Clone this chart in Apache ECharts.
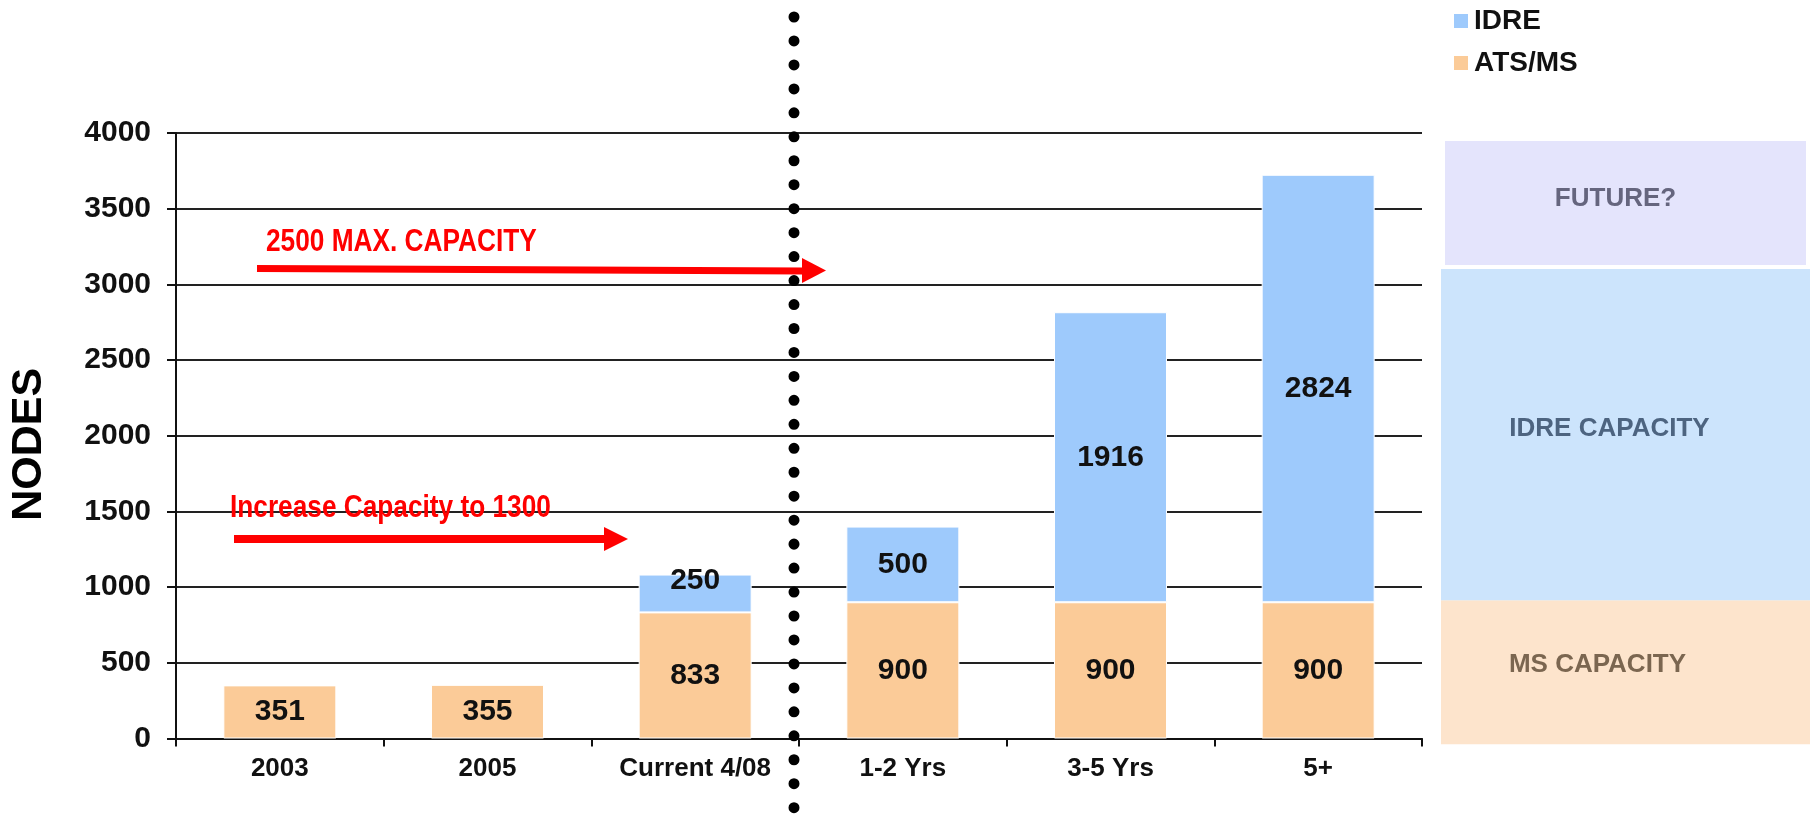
<!DOCTYPE html>
<html>
<head>
<meta charset="utf-8">
<script src="https://cdn.jsdelivr.net/npm/echarts@6/dist/echarts.min.js"></script>
<style>
html,body{margin:0;padding:0;background:#fff;}
#chart{width:1816px;height:815px;}
</style>
</head>
<body>
<div id="chart"></div>
<script>
// ---- data ----
const categories = ['2003', '2005', 'Current 4/08', '1-2 Yrs', '3-5 Yrs', '5+'];
const atsMs = [351, 355, 833, 900, 900, 900];
const idre = [0, 0, 250, 500, 1916, 2824];
const yMin = 0, yMax = 4000, yStep = 500;
const capacityNames = ['MS CAPACITY', 'IDRE CAPACITY', 'FUTURE?'];
const capacityValues = [948, 2182, 870];
const annotations = ['2500 MAX. CAPACITY', 'Increase Capacity to 1300'];

// ---- styles ----
const FONT = "'Liberation Sans', Arial, sans-serif";
const capColors = ['#FDE4CC', '#CCE4FC', '#E4E4FC'];
const capTextColors = ['#7B6650', '#4D6480', '#65657E'];
const capOffsets = [[-28, -8], [-16, -6], [-10, -4]];

const chart = echarts.init(document.getElementById('chart'), null, {renderer: 'canvas'});

const dataLabel = {
  show: true, position: 'inside', color: '#111', fontSize: 30, fontWeight: 'bold', fontFamily: FONT,
  formatter: p => (p.value ? String(p.value) : '')
};

const capSeries = capacityNames.map((n, i) => ({
  name: n, type: 'bar', stack: 'cap', xAxisIndex: 1, yAxisIndex: 1,
  barWidth: '100%', silent: true,
  itemStyle: Object.assign({color: capColors[i]}, i === 2 ? {borderColor: '#fff', borderWidth: 4} : {}),
  label: {
    show: true, position: 'inside', formatter: n, color: capTextColors[i],
    fontSize: 26, fontWeight: 'bold', fontFamily: FONT, offset: capOffsets[i]
  },
  data: [capacityValues[i]]
}));

const option = {
  animation: false,
  textStyle: {fontFamily: FONT},
  legend: {
    data: ['IDRE', 'ATS/MS'], orient: 'vertical', left: 1447, top: 2,
    itemWidth: 16, itemHeight: 16, itemGap: 14, icon: 'rect',
    textStyle: {fontSize: 28, fontWeight: 'bold', color: '#111', lineHeight: 28, fontFamily: FONT}
  },
  grid: [
    {left: 173, right: 394, top: 133, bottom: 76.5},
    {left: 1441, right: 6, top: 137, bottom: 70.7}
  ],
  xAxis: [
    {
      type: 'category', data: categories, gridIndex: 0,
      axisLine: {lineStyle: {color: '#111', width: 2}},
      axisTick: {show: true, length: 8, lineStyle: {color: '#111', width: 2}},
      axisLabel: {color: '#111', fontSize: 26, fontWeight: 'bold', margin: 17, interval: 0, fontFamily: FONT}
    },
    {type: 'category', data: ['cap'], gridIndex: 1, show: false}
  ],
  yAxis: [
    {
      type: 'value', gridIndex: 0, min: yMin, max: yMax, interval: yStep,
      name: 'NODES', nameLocation: 'middle', nameGap: 125, nameRotate: 90,
      nameTextStyle: {fontSize: 43, fontWeight: 'bold', color: '#000', fontFamily: FONT, padding: [0, 17, 0, 0]},
      axisLine: {show: true, lineStyle: {color: '#111', width: 2}},
      axisTick: {show: true, length: 9, lineStyle: {color: '#111', width: 2}},
      splitLine: {show: true, lineStyle: {color: '#222', width: 2}},
      axisLabel: {color: '#111', fontSize: 30, fontWeight: 'bold', margin: 25, fontFamily: FONT,
        formatter: v => String(v)}
    },
    {type: 'value', gridIndex: 1, min: yMin, max: yMax, show: false, splitLine: {show: false}}
  ],
  series: [
    {
      name: 'ATS/MS', type: 'bar', stack: 'total', barWidth: 113,
      itemStyle: {color: '#FBCB98', borderColor: '#fff', borderWidth: 1},
      label: dataLabel,
      data: atsMs
    },
    {
      name: 'IDRE', type: 'bar', stack: 'total', barWidth: 113,
      itemStyle: {color: '#9ECAFC', borderColor: '#fff', borderWidth: 1},
      label: dataLabel,
      data: idre.map((v, i) => (i === 2 ? {value: v, label: {offset: [0, -13]}} : v))
    }
  ].concat(capSeries),
  graphic: [
    // dotted divider
    {type: 'line', silent: true, z: 100,
      shape: {x1: 794, y1: 17, x2: 794, y2: 810},
      style: {stroke: '#000', lineWidth: 11, lineCap: 'round', lineDash: [0.01, 23.95]}},
    // top arrow
    {type: 'line', silent: true, z: 90,
      shape: {x1: 257, y1: 268.5, x2: 804, y2: 271},
      style: {stroke: '#FF0000', lineWidth: 7}},
    {type: 'polygon', silent: true, z: 90,
      shape: {points: [[802, 258], [826, 270.5], [802, 283]]},
      style: {fill: '#FF0000'}},
    {type: 'text', silent: true, z: 90, x: 266, y: 242, scaleX: 0.82,
      style: {text: annotations[0], fill: '#FF0000', font: 'bold 32px ' + FONT, textVerticalAlign: 'middle'}},
    // bottom arrow
    {type: 'line', silent: true, z: 90,
      shape: {x1: 234, y1: 539, x2: 606, y2: 539},
      style: {stroke: '#FF0000', lineWidth: 8}},
    {type: 'polygon', silent: true, z: 90,
      shape: {points: [[604, 527], [628, 539], [604, 551]]},
      style: {fill: '#FF0000'}},
    {type: 'text', silent: true, z: 90, x: 230, y: 508, scaleX: 0.82,
      style: {text: annotations[1], fill: '#FF0000', font: 'bold 32px ' + FONT, textVerticalAlign: 'middle'}}
  ]
};

chart.setOption(option);
</script>
</body>
</html>
